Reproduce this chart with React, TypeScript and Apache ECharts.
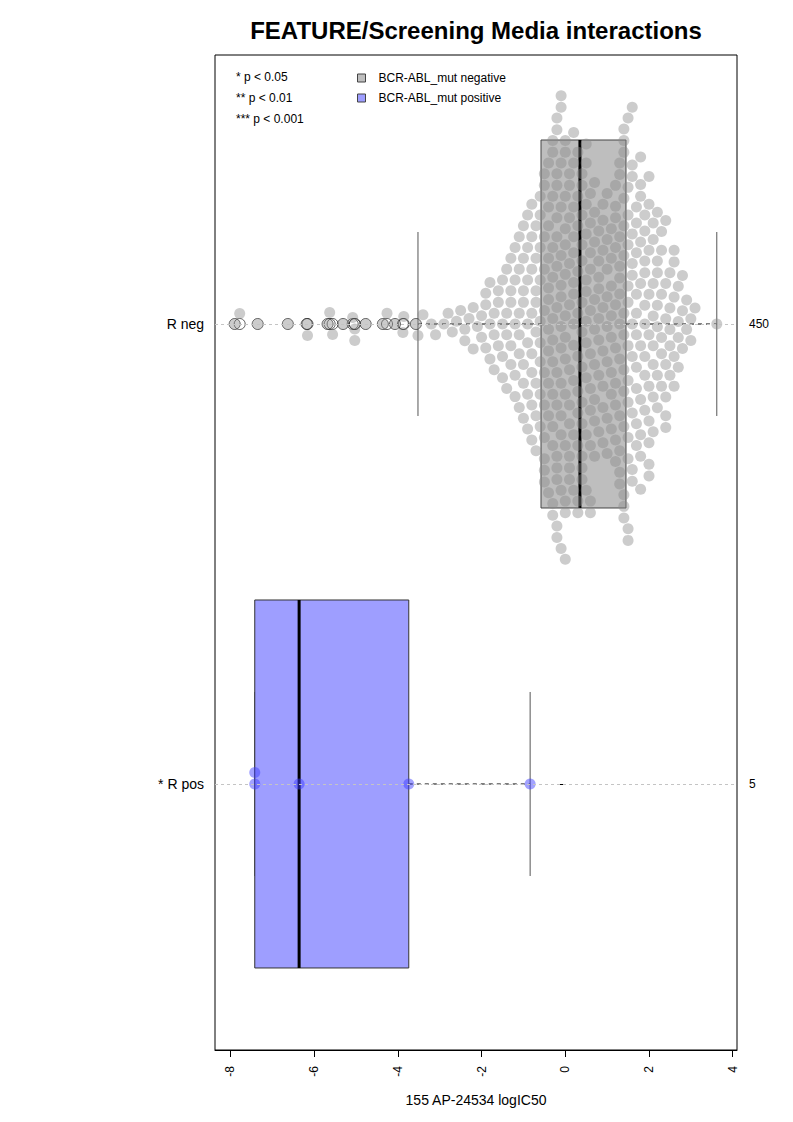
import React, { useEffect, useRef } from "react";
import * as echarts from "echarts";

// ---------- data ----------
const chartTitle = "FEATURE/Screening Media interactions";
const xAxisTitle = "155 AP-24534 logIC50";
const groupLabels = ["* R pos", "R neg"]; // y = 1, y = 2
const groupCounts = ["5", "450"];
const xTicks = [-8, -6, -4, -2, 0, 2, 4];
const pLegend = ["* p < 0.05", "** p < 0.01", "*** p < 0.001"];
const seriesNames = ["BCR-ABL_mut negative", "BCR-ABL_mut positive"];

// box stats: [lower whisker, Q1, median, Q3, upper whisker]
const negBox = [-3.52, -0.58, 0.35, 1.45, 3.62];
const posBox = [-7.42, -7.42, -6.36, -3.74, -0.84];

// R neg outliers (below lower whisker)
const negOutliers = [
  -7.9, -7.78, -7.35, -6.63, -6.18, -6.16, -5.68, -5.63, -5.56, -5.31,
  -5.08, -5.03, -5.03, -4.77, -4.36, -4.26, -4.07, -3.88, -3.86, -3.57,
];
// R neg remaining values as a fine histogram (value, count)
const negBinValues = [
  -3.52, -3.4, -3.2, -3.1, -2.9, -2.8, -2.7, -2.6, -2.5, -2.4, -2.3, -2.2, -2.1,
  -2.0, -1.9, -1.8, -1.7, -1.6, -1.5, -1.4, -1.3, -1.2, -1.1, -1.0, -0.9, -0.8,
  -0.7, -0.6, -0.5, -0.4, -0.3, -0.2, -0.1, 0.0, 0.1, 0.2, 0.3, 0.4, 0.5, 0.6,
  0.7, 0.8, 0.9, 1.0, 1.1, 1.2, 1.3, 1.4, 1.5, 1.6, 1.7, 1.8, 1.9, 2.0, 2.1,
  2.2, 2.3, 2.4, 2.5, 2.6, 2.7, 2.8, 2.9, 3.0, 3.1, 3.62,
];
const negBinCounts = [
  1, 1, 1, 1, 1, 1, 1, 1, 1, 2, 1, 2, 1,
  2, 3, 3, 3, 3, 4, 4, 5, 5, 6, 7, 7, 8,
  8, 9, 11, 11, 13, 15, 14, 14, 11, 12, 11, 13, 11, 11,
  9, 8, 8, 8, 8, 10, 12, 14, 13, 11, 10, 10, 9, 10, 8,
  7, 6, 7, 5, 5, 4, 3, 2, 2, 1, 1,
];
const posValues = [-7.42, -7.42, -6.36, -3.74, -0.84];

// ---------- layout constants ----------
const FONT = "'Liberation Sans', Arial, Helvetica, sans-serif";
const GRID = { left: 215, right: 56, top: 55, bottom: 72 };
const W = 793;
const H = 1122;
const X_MIN = -8.37;
const X_MAX = 4.103;
const Y_MIN = 0.4217;
const Y_MAX = 2.5848;
const PLOT_W = W - GRID.left - GRID.right;
const PLOT_H = H - GRID.top - GRID.bottom;
const PX_PER_X = PLOT_W / (X_MAX - X_MIN);
const PX_PER_Y = PLOT_H / (Y_MAX - Y_MIN);
const DOT = 11;
const SPACING = 11.6;
const BOX_HALF = 0.4;
const STAPLE_HALF = 0.2;

// beeswarm ("swarm") layout in pixel space, returns offsets in y-axis units
function swarmOffsets(values: number[], d: number): number[] {
  const order = values.map((_, i) => i).sort((a, b) => values[a] - values[b]);
  const px: number[] = [];
  const py: number[] = [];
  const out = new Array(values.length).fill(0);
  let pref = 1;
  for (const i of order) {
    const x = values[i] * PX_PER_X;
    const nx: number[] = [];
    const ny: number[] = [];
    const cands = [0];
    for (let k = 0; k < px.length; k++) {
      const dx = px[k] - x;
      if (Math.abs(dx) < d) {
        nx.push(px[k]);
        ny.push(py[k]);
        const dy = Math.sqrt(d * d - dx * dx);
        cands.push(py[k] + dy, py[k] - dy);
      }
    }
    cands.sort((a, b) => {
      const diff = Math.abs(a) - Math.abs(b);
      if (Math.abs(diff) > 1e-9) return diff;
      return (b - a) * pref;
    });
    let chosen = 0;
    for (const c of cands) {
      let ok = true;
      for (let k = 0; k < nx.length; k++) {
        const dx = nx[k] - x;
        const dy = ny[k] - c;
        if (dx * dx + dy * dy < d * d - 0.01) {
          ok = false;
          break;
        }
      }
      if (ok) {
        chosen = c;
        break;
      }
    }
    if (chosen !== 0) pref = chosen > 0 ? -1 : 1;
    px.push(x);
    py.push(chosen);
    out[i] = chosen / PX_PER_Y;
  }
  return out;
}

function buildPoints(values: number[], center: number): number[][] {
  const offs = swarmOffsets(values, SPACING);
  return values.map((v, i) => [v, center + offs[i]]);
}

function makeBoxRender(fill: string, stroke: string) {
  return (params: any, api: any) => {
    const yc = api.value(0);
    const lo = api.value(1);
    const q1 = api.value(2);
    const med = api.value(3);
    const q3 = api.value(4);
    const hi = api.value(5);
    const c = (x: number, y: number) => api.coord([x, y]);
    const ym = c(q1, yc)[1];
    const topY = c(q1, yc + BOX_HALF)[1];
    const botY = c(q1, yc - BOX_HALF)[1];
    const sTop = c(q1, yc + STAPLE_HALF)[1];
    const sBot = c(q1, yc - STAPLE_HALF)[1];
    const xlo = c(lo, yc)[0];
    const xq1 = c(q1, yc)[0];
    const xmed = c(med, yc)[0];
    const xq3 = c(q3, yc)[0];
    const xhi = c(hi, yc)[0];
    return {
      type: "group",
      children: [
        { type: "line", shape: { x1: xlo, y1: ym, x2: xq1, y2: ym }, style: { stroke: "#000", lineWidth: 1, lineDash: [4, 4] } },
        { type: "line", shape: { x1: xq3, y1: ym, x2: xhi, y2: ym }, style: { stroke: "#000", lineWidth: 1, lineDash: [4, 4] } },
        { type: "line", shape: { x1: xlo, y1: sTop, x2: xlo, y2: sBot }, style: { stroke: "#555", lineWidth: 1 } },
        { type: "line", shape: { x1: xhi, y1: sTop, x2: xhi, y2: sBot }, style: { stroke: "#555", lineWidth: 1 } },
        { type: "rect", shape: { x: xq1, y: topY, width: xq3 - xq1, height: botY - topY }, style: { fill, stroke, lineWidth: 1 } },
        { type: "line", shape: { x1: xmed, y1: topY, x2: xmed, y2: botY }, style: { stroke: "#000", lineWidth: 3 } },
      ],
    };
  };
}

export default function App() {
  const ref = useRef<HTMLDivElement>(null);
  useEffect(() => {
    if (!ref.current) return;
    const chart = echarts.init(ref.current, null, { renderer: "svg" });

    const negValues: number[] = [...negOutliers];
    negBinValues.forEach((v, i) => {
      for (let k = 0; k < negBinCounts[i]; k++) negValues.push(v);
    });
    const negPoints = buildPoints(negValues, 2);
    const posPoints = buildPoints(posValues, 1);

    const option: any = {
      animation: false,
      textStyle: { fontFamily: FONT },
      grid: { ...GRID, show: true, borderColor: "#000", borderWidth: 1, backgroundColor: "transparent" },
      legend: {
        left: 352,
        top: 67,
        orient: "vertical",
        itemWidth: 8,
        itemHeight: 8,
        itemGap: 8,
        icon: "rect",
        selectedMode: false,
        textStyle: { fontSize: 12, color: "#000", fontFamily: FONT, padding: [0, 0, 0, 8] },
        data: [
          { name: seriesNames[0], itemStyle: { color: "#BEBEBE", borderColor: "#444", borderWidth: 1 } },
          { name: seriesNames[1], itemStyle: { color: "#9E9EFF", borderColor: "#444", borderWidth: 1 } },
        ],
      },
      xAxis: {
        type: "value",
        min: X_MIN,
        max: X_MAX,
        name: xAxisTitle,
        nameLocation: "middle",
        nameGap: 43,
        nameTextStyle: { fontSize: 14, color: "#000", fontFamily: FONT },
        axisLine: { show: true, onZero: false, lineStyle: { color: "#000", width: 1 } },
        axisTick: { show: true, customValues: xTicks, length: 7, lineStyle: { color: "#000" } },
        axisLabel: {
          customValues: xTicks,
          rotate: 90,
          margin: 16,
          fontSize: 12,
          color: "#000",
          fontFamily: FONT,
          formatter: (v: number) => String(v),
        },
        splitLine: { show: false },
      },
      yAxis: [
        {
          type: "value",
          min: Y_MIN,
          max: Y_MAX,
          position: "left",
          axisLine: { show: false },
          axisTick: { show: true, customValues: [1, 2], length: 7, lineStyle: { color: "#000" } },
          axisLabel: {
            customValues: [1, 2],
            margin: 11,
            fontSize: 14,
            color: "#000",
            fontFamily: FONT,
            formatter: (v: number) => groupLabels[Math.round(v) - 1] ?? "",
          },
          splitLine: { show: false },
        },
        {
          type: "value",
          min: Y_MIN,
          max: Y_MAX,
          position: "right",
          axisLine: { show: false },
          axisTick: { show: false },
          axisLabel: {
            customValues: [1, 2],
            margin: 12,
            fontSize: 12,
            color: "#000",
            fontFamily: FONT,
            formatter: (v: number) => groupCounts[Math.round(v) - 1] ?? "",
          },
          splitLine: { show: false },
        },
      ],
      graphic: [
        {
          type: "text",
          x: 476,
          y: 30,
          style: {
            text: chartTitle,
            fontSize: 24,
            fontWeight: "bold",
            fontFamily: FONT,
            fill: "#000",
            align: "center",
            verticalAlign: "middle",
          },
        },
        ...pLegend.map((t, i) => ({
          type: "text",
          x: 236,
          y: 76.5 + i * 21,
          style: { text: t, fontSize: 12, fontFamily: FONT, fill: "#000", align: "left", verticalAlign: "middle" },
        })),
      ],
      series: [
        {
          type: "scatter",
          name: "guides",
          data: [],
          z: 1,
          silent: true,
          markLine: {
            silent: true,
            symbol: ["none", "none"],
            label: { show: false },
            lineStyle: { color: "#c4c4c4", type: [3, 3], width: 1 },
            data: [{ yAxis: 1 }, { yAxis: 2 }],
          },
        },
        {
          type: "custom",
          name: seriesNames[0],
          z: 2,
          itemStyle: { color: "#BEBEBE" },
          encode: { x: [1, 2, 3, 4, 5], y: 0 },
          data: [[2, ...negBox]],
          renderItem: makeBoxRender("#BEBEBE", "#444"),
        },
        {
          type: "custom",
          name: seriesNames[1],
          z: 2,
          itemStyle: { color: "#9E9EFF" },
          encode: { x: [1, 2, 3, 4, 5], y: 0 },
          data: [[1, ...posBox]],
          renderItem: makeBoxRender("#9E9EFF", "#333"),
        },
        {
          type: "scatter",
          name: "outliers",
          z: 3,
          symbol: "circle",
          symbolSize: DOT,
          itemStyle: { color: "rgba(255,255,255,0)", borderColor: "#000", borderWidth: 0.8 },
          data: negOutliers.map((v) => [v, 2]),
        },
        {
          type: "scatter",
          name: "R neg values",
          z: 4,
          symbolSize: DOT,
          itemStyle: { color: "rgba(140,140,140,0.55)" },
          data: negPoints,
        },
        {
          type: "scatter",
          name: "R pos values",
          z: 4,
          symbolSize: DOT,
          itemStyle: { color: "rgba(60,60,255,0.6)" },
          data: posPoints,
        },
      ],
    };
    chart.setOption(option);
    return () => chart.dispose();
  }, []);
  return (
    <div
      ref={ref}
      style={{ position: "absolute", left: 0, top: 0, width: W, height: H, background: "#fff" }}
    />
  );
}
